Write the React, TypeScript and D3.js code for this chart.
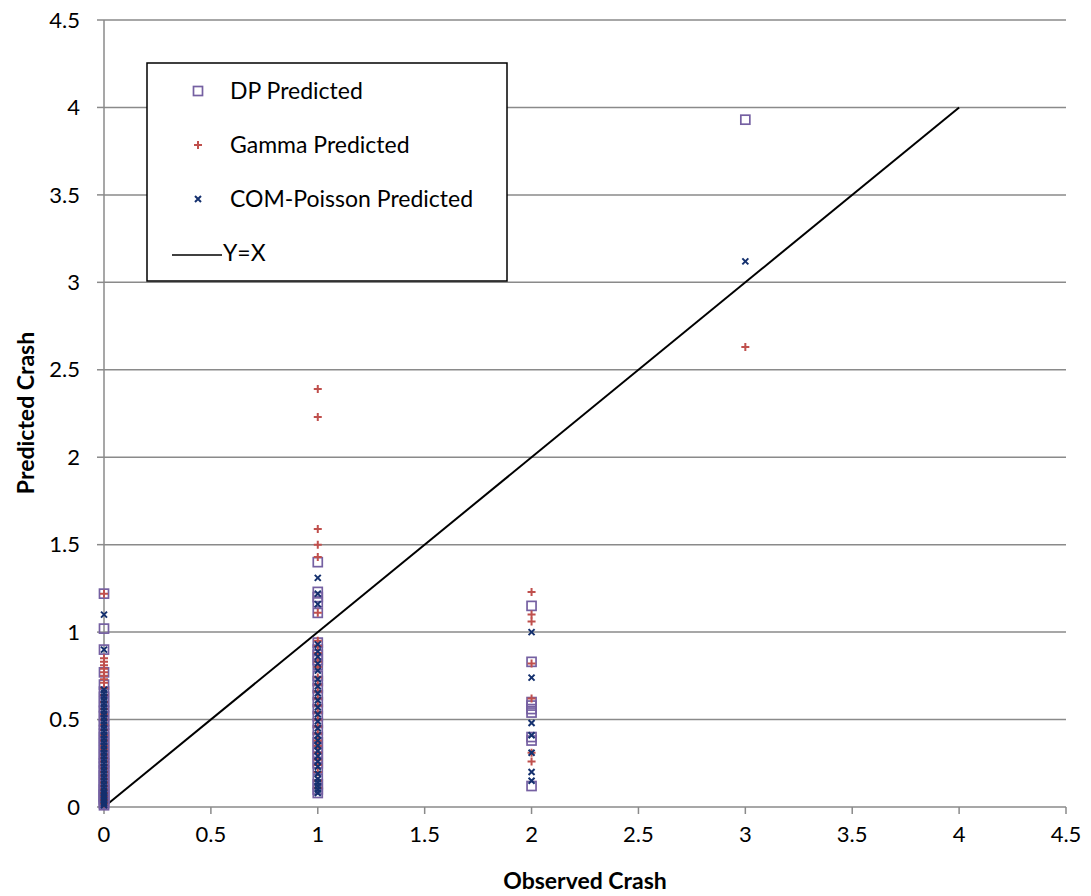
import React from 'react';
import * as d3 from 'd3';

// tick values
const xTicks = [0, 0.5, 1, 1.5, 2, 2.5, 3, 3.5, 4, 4.5];
const yTicks = [0, 0.5, 1, 1.5, 2, 2.5, 3, 3.5, 4, 4.5];

// predicted values grouped by observed crash count
const dp0 = [1.22, 1.02, 0.9, 0.77, 0.7, 0.66, 0.63, 0.6, 0.57, 0.55, 0.52, 0.49, 0.47, 0.44, 0.42, 0.4, 0.38, 0.36, 0.34, 0.32, 0.3, 0.28, 0.26, 0.25, 0.23, 0.21, 0.2, 0.18, 0.17, 0.15, 0.14, 0.12, 0.11, 0.1, 0.09, 0.08, 0.07, 0.06, 0.05, 0.04, 0.03, 0.02, 0.01];
const dp1 = [1.4, 1.23, 1.2, 1.17, 1.11, 0.94, 0.9, 0.87, 0.84, 0.81, 0.75, 0.72, 0.68, 0.64, 0.6, 0.56, 0.52, 0.48, 0.44, 0.4, 0.37, 0.34, 0.31, 0.28, 0.25, 0.22, 0.16, 0.13, 0.1, 0.08];
const dp2 = [1.15, 0.83, 0.6, 0.58, 0.56, 0.54, 0.4, 0.38, 0.12];
const dp3 = [3.93];

const gamma0 = [1.22, 0.85, 0.83, 0.81, 0.79, 0.77, 0.75, 0.73, 0.71, 0.68, 0.64, 0.6, 0.56, 0.53, 0.5, 0.47, 0.44, 0.41, 0.38, 0.35, 0.33, 0.3, 0.28, 0.26, 0.24, 0.22, 0.2, 0.18, 0.16, 0.14, 0.12, 0.1, 0.08, 0.06, 0.04, 0.02];
const gamma1 = [2.39, 2.23, 1.59, 1.5, 1.43, 1.11, 0.95, 0.92, 0.88, 0.83, 0.8, 0.74, 0.7, 0.66, 0.62, 0.58, 0.54, 0.5, 0.46, 0.42, 0.38, 0.35, 0.31, 0.27, 0.24, 0.2, 0.15, 0.11];
const gamma2 = [1.23, 1.1, 1.06, 0.82, 0.62, 0.31, 0.26];
const gamma3 = [2.63];

const com0 = [1.1, 0.9, 0.67, 0.65, 0.63, 0.61, 0.59, 0.57, 0.55, 0.53, 0.51, 0.49, 0.47, 0.45, 0.43, 0.41, 0.39, 0.37, 0.35, 0.33, 0.31, 0.29, 0.27, 0.25, 0.23, 0.21, 0.19, 0.17, 0.15, 0.13, 0.11, 0.09, 0.08, 0.07, 0.06, 0.05, 0.04, 0.03, 0.02, 0.01];
const com1 = [1.31, 1.22, 1.16, 0.93, 0.89, 0.86, 0.82, 0.78, 0.73, 0.69, 0.65, 0.61, 0.57, 0.53, 0.49, 0.45, 0.41, 0.38, 0.35, 0.32, 0.29, 0.26, 0.23, 0.19, 0.16, 0.14, 0.12, 0.1, 0.08];
const com2 = [1.0, 0.74, 0.48, 0.41, 0.31, 0.2, 0.15];
const com3 = [3.12];

const identity = [0, 4];

const toPoints = (groups: number[][]) =>
  groups.flatMap((g, obs) => g.map(p => ({ x: obs, y: p })));

const dpPts = toPoints([dp0, dp1, dp2, dp3]);
const gammaPts = toPoints([gamma0, gamma1, gamma2, gamma3]);
const comPts = toPoints([com0, com1, com2, com3]);

const W = 1091, H = 896;
const margin = { left: 104, right: 25, top: 20, bottom: 89 };

const DP_COLOR = '#7560a2';
const GAMMA_COLOR = '#c0504d';
const COM_COLOR = '#14306e';
const GRID = '#8a8a8a';
const FONT = 'Lato, "Open Sans", sans-serif';

const Square = ({ x, y }: { x: number; y: number }) => (
  <rect x={x - 4.5} y={y - 4.5} width={9} height={9} fill="none" stroke={DP_COLOR} strokeWidth={1.7} />
);
const Plus = ({ x, y }: { x: number; y: number }) => (
  <path d={`M${x - 4},${y}H${x + 4}M${x},${y - 4}V${y + 4}`} stroke={GAMMA_COLOR} strokeWidth={2} />
);
const Cross = ({ x, y }: { x: number; y: number }) => (
  <path d={`M${x - 3},${y - 3}L${x + 3},${y + 3}M${x + 3},${y - 3}L${x - 3},${y + 3}`} stroke={COM_COLOR} strokeWidth={2} />
);

export default function App() {
  const xScale = d3.scaleLinear().domain([0, 4.5]).range([margin.left, W - margin.right]);
  const yScale = d3.scaleLinear().domain([0, 4.5]).range([H - margin.bottom, margin.top]);
  const line = d3.line<number>().x(d => xScale(d)).y(d => yScale(d));

  const legend = [
    { label: 'DP Predicted', kind: 'dp' },
    { label: 'Gamma Predicted', kind: 'gamma' },
    { label: 'COM-Poisson Predicted', kind: 'com' },
    { label: 'Y=X', kind: 'line' },
  ];

  return (
    <div style={{ position: 'absolute', left: 0, top: 0 }}>
      <svg width={W} height={H} style={{ display: 'block', background: '#fff' }} fontFamily={FONT}>
        {/* gridlines */}
        {yTicks.slice(1).map(t => (
          <line key={t} x1={xScale(0)} x2={xScale(4.5)} y1={yScale(t)} y2={yScale(t)} stroke={GRID} strokeWidth={1.5} />
        ))}
        {/* axes */}
        <line x1={xScale(0)} x2={xScale(0)} y1={yScale(0)} y2={yScale(4.5)} stroke={GRID} strokeWidth={1.5} />
        <line x1={xScale(0)} x2={xScale(4.5)} y1={yScale(0)} y2={yScale(0)} stroke={GRID} strokeWidth={1.5} />
        {yTicks.map(t => (
          <g key={'y' + t}>
            <line x1={xScale(0) - 7} x2={xScale(0)} y1={yScale(t)} y2={yScale(t)} stroke={GRID} strokeWidth={1.5} />
            <text x={xScale(0) - 24} y={yScale(t)} dy="0.35em" textAnchor="end" fontSize={22} fill="#000">{t}</text>
          </g>
        ))}
        {xTicks.map(t => (
          <g key={'x' + t}>
            <line x1={xScale(t)} x2={xScale(t)} y1={yScale(0)} y2={yScale(0) + 7} stroke={GRID} strokeWidth={1.5} />
            <text x={xScale(t)} y={yScale(0) + 35} textAnchor="middle" fontSize={22} fill="#000">{t}</text>
          </g>
        ))}

        {/* Y=X line */}
        <path d={line(identity) || ''} stroke="#000" strokeWidth={2} fill="none" />

        {/* series */}
        {dpPts.map((p, i) => <Square key={'d' + i} x={xScale(p.x)} y={yScale(p.y)} />)}
        {gammaPts.map((p, i) => <Plus key={'g' + i} x={xScale(p.x)} y={yScale(p.y)} />)}
        {comPts.map((p, i) => <Cross key={'c' + i} x={xScale(p.x)} y={yScale(p.y)} />)}

        {/* axis titles */}
        <text x={585} y={889} textAnchor="middle" fontSize={23} fontWeight="bold">Observed Crash</text>
        <text transform={`translate(34,${413}) rotate(-90)`} textAnchor="middle" fontSize={23} fontWeight="bold">Predicted Crash</text>

        {/* legend */}
        <rect x={147} y={63} width={360} height={218} fill="#fff" stroke="#000" strokeWidth={1.5} />
        {legend.map((l, i) => {
          const cy = 91 + i * 54;
          return (
            <g key={l.label}>
              {l.kind === 'dp' && <Square x={198} y={cy} />}
              {l.kind === 'gamma' && <Plus x={198} y={cy} />}
              {l.kind === 'com' && <Cross x={198} y={cy} />}
              {l.kind === 'line' && <line x1={172} x2={222} y1={cy + 2} y2={cy + 2} stroke="#000" strokeWidth={1.5} />}
              <text x={l.kind === 'line' ? 223 : 230} y={cy} dy="0.35em" fontSize={23} fill="#000">{l.label}</text>
            </g>
          );
        })}
      </svg>
    </div>
  );
}
